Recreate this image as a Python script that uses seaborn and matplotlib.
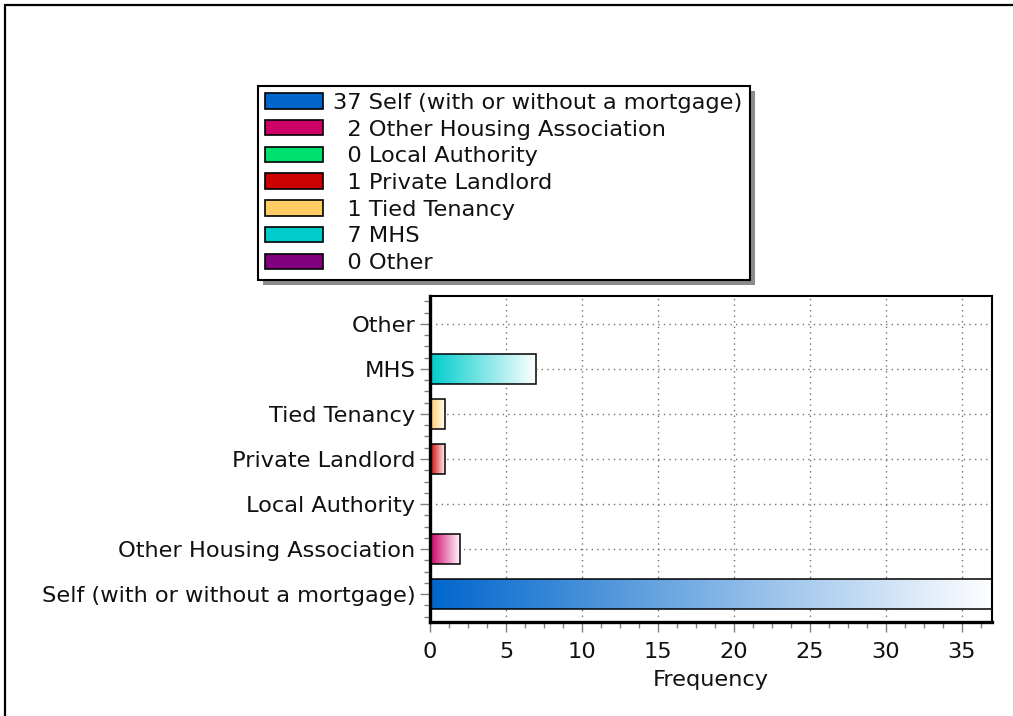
import numpy as np
import pandas as pd
import matplotlib
matplotlib.use("Agg")
import matplotlib.pyplot as plt
from matplotlib.patches import Rectangle
from matplotlib.lines import Line2D
from matplotlib.ticker import MultipleLocator
from matplotlib.colors import to_rgb
import seaborn as sns

# Tenure categories (legend order) and their frequencies
categories = [
    "Self (with or without a mortgage)",
    "Other Housing Association",
    "Local Authority",
    "Private Landlord",
    "Tied Tenancy",
    "MHS",
    "Other",
]
counts = [37, 2, 0, 1, 1, 7, 0]
colors = ["#0066CC", "#CC0066", "#00E070", "#CC0000", "#FFCC66", "#00CCCC", "#800080"]

df = pd.DataFrame({"category": categories, "count": counts})
palette = dict(zip(categories, colors))
# bars run from "Other" at the top down to "Self" at the bottom
y_order = categories[::-1]

sns.set_theme(style="white")
plt.rcParams["font.family"] = ["DejaVu Sans"]
FS = 16.2

fig = plt.figure(figsize=(10.13, 7.16), dpi=100)
ax = fig.add_axes([0.4245, 0.1313, 0.5548, 0.4553])

sns.barplot(data=df, x="count", y="category", hue="category", order=y_order,
            hue_order=categories, palette=palette, orient="h", width=0.66,
            saturation=1, legend=False, dodge=False, ax=ax)

# Replace flat fills with a colour-to-white horizontal gradient
for patch in list(ax.patches):
    x0, y0 = patch.get_x(), patch.get_y()
    w, h = patch.get_width(), patch.get_height()
    if w <= 0:
        patch.set_visible(False)
        continue
    rgb = np.array(to_rgb(patch.get_facecolor()))
    t = np.linspace(0, 1, 256)[None, :, None]
    grad = rgb[None, None, :] * (1 - t) + np.ones(3)[None, None, :] * t
    ax.imshow(grad, extent=[x0, x0 + w, y0 + h, y0], aspect="auto",
              interpolation="bilinear", zorder=2)
    patch.set_facecolor("none")
    patch.set_edgecolor("black")
    patch.set_linewidth(1.1)
    patch.set_zorder(3)

ax.set_xlim(0, 37)
ax.set_ylim(6.62, -0.62)
ax.set_aspect("auto")

# Axis styling
ax.set_xlabel("Frequency", fontsize=FS, color="#111111", labelpad=6)
ax.set_ylabel("")
ax.xaxis.set_major_locator(MultipleLocator(5))
ax.xaxis.set_minor_locator(MultipleLocator(1.25))
ax.yaxis.set_minor_locator(MultipleLocator(0.25))
ax.tick_params(axis="both", which="major", direction="out", length=7.5, width=1,
               color="0.5", labelsize=FS, labelcolor="#111111", pad=3)
ax.tick_params(axis="both", which="minor", direction="out", length=4.5, width=1,
               color="0.5")
ax.tick_params(axis="x", which="major", pad=7)
ax.tick_params(axis="both", which="both", bottom=True, left=True)
ax.grid(True, which="major", linestyle=(0, (1, 3)), color="0.45", linewidth=1)
ax.set_axisbelow(True)

for side in ["top", "right"]:
    ax.spines[side].set_visible(True)
    ax.spines[side].set_color("black")
    ax.spines[side].set_linewidth(1.5)
for side in ["left", "bottom"]:
    ax.spines[side].set_visible(True)
    ax.spines[side].set_color("black")
    ax.spines[side].set_linewidth(2.4)

# Legend with counts in front of each label
fs = "\u2007"
handles = [Rectangle((0, 0), 1, 1, facecolor=c, edgecolor="black", linewidth=1.2)
           for c in colors]
labels = [f"{n:>2}".replace(" ", fs) + " " + cat for n, cat in zip(counts, categories)]
leg = fig.legend(handles, labels, loc="upper left",
                 bbox_to_anchor=(258 / 1013, 1 - 86 / 716),
                 frameon=True, fancybox=False, shadow=False, framealpha=1,
                 facecolor="white",
                 fontsize=FS, handlelength=2.6, handleheight=0.68,
                 handletextpad=0.45, labelspacing=0.3, borderpad=0.3,
                 borderaxespad=0, labelcolor="#111111")
leg.get_frame().set_edgecolor("black")
leg.get_frame().set_linewidth(1.5)
leg.set_zorder(6)

# Drop shadow behind the legend box
fig.canvas.draw()
bb = leg.get_window_extent()
fig.add_artist(Rectangle((bb.x0 + 5, bb.y0 - 5), bb.width, bb.height,
                         transform=None, facecolor="0.55", edgecolor="none",
                         zorder=5))

# Outer frame: left and top edges of the figure
fig.add_artist(Line2D([5 / 1013, 5 / 1013], [0, 1 - 5 / 716],
                      transform=fig.transFigure, color="black", linewidth=1.6))
fig.add_artist(Line2D([5 / 1013, 1], [1 - 5 / 716, 1 - 5 / 716],
                      transform=fig.transFigure, color="black", linewidth=1.6))

fig.savefig("out.png", dpi=100, facecolor="white")
